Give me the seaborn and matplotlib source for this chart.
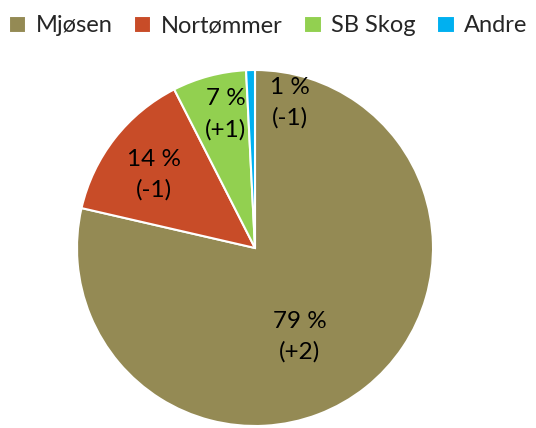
import numpy as np
import matplotlib
matplotlib.use("Agg")
import matplotlib.pyplot as plt
import seaborn as sns

# =============================
# DATA
# =============================
categories = ["Mjøsen", "Nortømmer", "SB Skog", "Andre"]
shares = [78.6, 13.9, 6.7, 0.8]
slice_labels = ["79 %\n(+2)", "14 %\n(-1)", "7 %\n(+1)", "1 %\n(-1)"]
colors = ["#948A54", "#C84C28", "#92D050", "#00B0F0"]

# label placement (fraction of radius, angle shift in degrees)
label_dist = [0.56, 0.70, 0.77, 0.84]
label_shift = [-11.7, 2, -2.6, -14.9]

sns.set_style("white")
plt.rcParams["font.family"] = ["Lato", "DejaVu Sans"]

fig = plt.figure(figsize=(5.36, 4.28), dpi=100)
ax = fig.add_axes([77 / 536, 2 / 428, 356 / 536, 356 / 428])

wedges, _ = ax.pie(
    shares,
    colors=colors,
    startangle=90,
    counterclock=False,
    wedgeprops=dict(edgecolor="white", linewidth=1.5),
)

for w, lab, d, s in zip(wedges, slice_labels, label_dist, label_shift):
    ang = np.deg2rad((w.theta1 + w.theta2) / 2 + s)
    ax.text(d * np.cos(ang), d * np.sin(ang), lab, ha="center", va="center",
            fontsize=17.5, color="#000000", linespacing=1.55)

ax.set_xlim(-1, 1)
ax.set_ylim(-1, 1)
ax.set_aspect("equal")
ax.axis("off")

fig.legend(
    wedges, categories,
    loc="upper center", bbox_to_anchor=(0.5, 0.997),
    ncol=4, frameon=False, fontsize=17,
    handlelength=0.75, handleheight=0.75, handletextpad=0.4,
    columnspacing=0.9, borderaxespad=0.2,
)

fig.savefig("out.png", dpi=100)
